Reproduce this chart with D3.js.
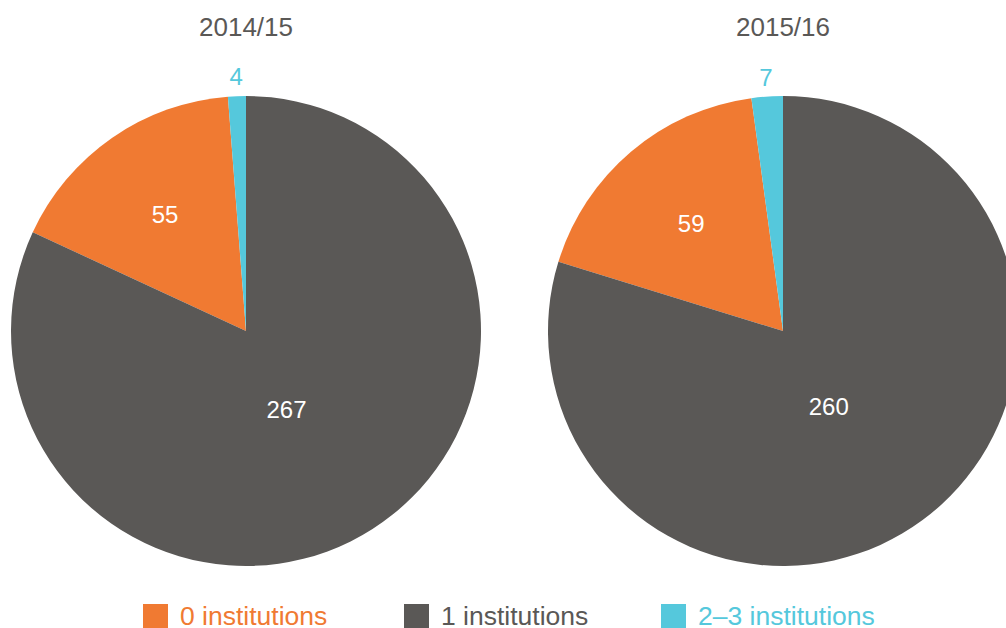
<!DOCTYPE html>
<html>
<head>
<meta charset="utf-8">
<script src="https://cdn.jsdelivr.net/npm/d3@7"></script>
<style>
  body { margin: 0; background: #fff; }
  svg text { font-family: "Liberation Sans", Arial, Helvetica, sans-serif; }
</style>
</head>
<body>
<div id="chart"></div>
<script>
// data
var categories = ["0 institutions", "1 institutions", "2\u20133 institutions"];
var years = ["2014/15", "2015/16"];
var values2014 = [55, 267, 4];
var values2015 = [59, 260, 7];

// chart dimensions
var width = 1006;
var height = 628;
var radius = 235;
var centers = [246, 783];
var centerY = 331;

var color = d3.scaleOrdinal()
  .domain(categories)
  .range(["#f07a32", "#5a5856", "#55c8dc"]);

// slice order clockwise from 12 o'clock: 1, 0, 2-3
var drawOrder = { "1 institutions": 0, "0 institutions": 1, "2\u20133 institutions": 2 };

var pie = d3.pie()
  .value(function(d) { return d.value; })
  .sort(function(a, b) { return drawOrder[a.cat] - drawOrder[b.cat]; });

var arc = d3.arc().innerRadius(0).outerRadius(radius);

var svg = d3.select("#chart")
  .append("svg")
  .attr("width", width)
  .attr("height", height);

[values2014, values2015].forEach(function(vals, k) {
  var data = categories.map(function(c, i) { return { cat: c, value: vals[i] }; });
  var total = d3.sum(vals);

  var g = svg.append("g")
    .attr("transform", "translate(" + centers[k] + "," + centerY + ")");

  g.append("text")
    .attr("x", 0)
    .attr("y", -331 + 36)
    .attr("text-anchor", "middle")
    .attr("font-size", 26)
    .attr("fill", "#5a5856")
    .text(years[k]);

  var arcs = pie(data);

  g.selectAll("path")
    .data(arcs)
    .enter()
    .append("path")
    .attr("d", arc)
    .attr("fill", function(d) { return color(d.data.cat); });

  g.selectAll(".lbl")
    .data(arcs)
    .enter()
    .append("text")
    .attr("class", "lbl")
    .attr("text-anchor", "middle")
    .attr("font-size", 24)
    .attr("fill", function(d) {
      return (d.data.value / total < 0.05) ? color(d.data.cat) : "#fff";
    })
    .attr("transform", function(d) {
      var share = d.data.value / total;
      var a = (d.startAngle + d.endAngle) / 2;
      var r;
      if (share < 0.05) r = radius + 20;
      else if (share > 0.5) { r = 88; a += 0.09; }
      else r = 142;
      return "translate(" + (Math.sin(a) * r) + "," + (-Math.cos(a) * r + 9) + ")";
    })
    .text(function(d) { return d.data.value; });
});

// legend
var legendX = [143, 404, 661];
var legend = svg.selectAll(".legend")
  .data(categories)
  .enter()
  .append("g")
  .attr("class", "legend")
  .attr("transform", function(d, i) { return "translate(" + legendX[i] + ",604)"; });

legend.append("rect")
  .attr("width", 25)
  .attr("height", 25)
  .attr("fill", color);

legend.append("text")
  .attr("x", 37)
  .attr("y", 21)
  .attr("font-size", 26.5)
  .attr("fill", color)
  .text(function(d) { return d; });
</script>
</body>
</html>
